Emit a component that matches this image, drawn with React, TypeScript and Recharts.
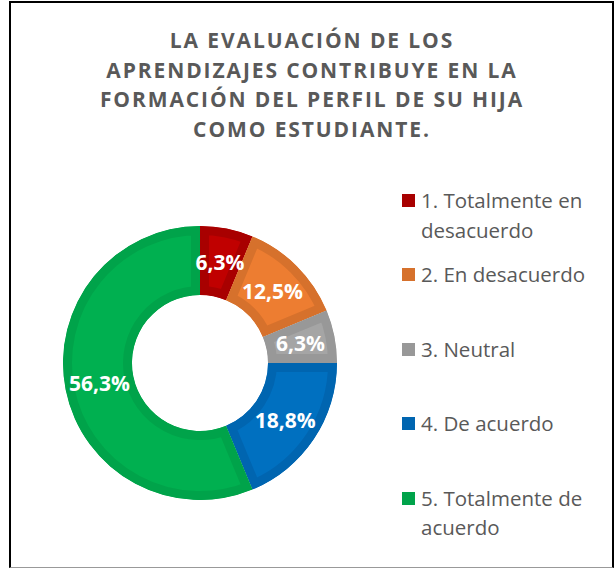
import { Cell, Legend, Pie, PieChart, Sector } from 'recharts'

// Survey answers (percent of respondents)
const categories = [
  '1. Totalmente en desacuerdo',
  '2. En desacuerdo',
  '3. Neutral',
  '4. De acuerdo',
  '5. Totalmente de acuerdo',
]
const percents = [6.25, 12.5, 6.25, 18.75, 56.25]
const fillColors = ['#C00000', '#ED7D31', '#A5A5A5', '#0070C0', '#00B050']
const edgeColors = ['#A80000', '#D6712C', '#989898', '#0065B0', '#00A34A']
const titleLines = [
  'LA EVALUACIÓN DE LOS',
  'APRENDIZAJES CONTRIBUYE EN LA',
  'FORMACIÓN DEL PERFIL DE SU HIJA',
  'COMO ESTUDIANTE.',
]

const data = categories.map((name, i) => ({ name, value: percents[i] }))

const FONT = '"Open Sans", sans-serif'
const RADIAN = Math.PI / 180

// sector with its darker outline drawn only on the inside
function OutlinedSlice(props: any) {
  const { cx, cy, innerRadius, outerRadius, startAngle, endAngle, fill, stroke, index } = props
  const id = `slice-clip-${index}`
  const geom = { cx, cy, innerRadius, outerRadius, startAngle, endAngle }
  return (
    <g>
      <defs>
        <clipPath id={id}>
          <Sector {...geom} />
        </clipPath>
      </defs>
      <Sector {...geom} fill={fill} stroke={stroke} strokeWidth={18} clipPath={`url(#${id})`} />
    </g>
  )
}

function renderLabel(props: any) {
  const { cx, cy, midAngle, innerRadius, outerRadius, value } = props
  const r = (innerRadius + outerRadius) / 2
  const x = cx + r * Math.cos(-midAngle * RADIAN)
  const y = cy + r * Math.sin(-midAngle * RADIAN)
  return (
    <text
      x={x}
      y={y}
      fill="#fff"
      textAnchor="middle"
      dominantBaseline="central"
      fontFamily={FONT}
      fontWeight={700}
      fontSize={21}
    >
      {`${value.toFixed(1).replace('.', ',')}%`}
    </text>
  )
}

function LegendList() {
  return (
    <div style={{ position: 'relative', width: 210, height: 360, fontFamily: FONT }}>
      {categories.map((name, i) => (
        <div
          key={name}
          style={{ position: 'absolute', left: 0, top: i * 74.4, display: 'flex', alignItems: 'flex-start' }}
        >
          <span
            style={{
              display: 'inline-block',
              flex: 'none',
              width: 13,
              height: 13,
              marginTop: 8,
              marginRight: 6,
              background: edgeColors[i],
            }}
          />
          <span style={{ width: 185, fontSize: 20.5, lineHeight: '29.5px', color: '#595959' }}>{name}</span>
        </div>
      ))}
    </div>
  )
}

export default function App() {
  return (
    <div style={{ position: 'absolute', left: 0, top: 0, width: 616, height: 569, background: '#fff' }}>
      <div
        style={{
          position: 'absolute',
          left: 9,
          top: 1,
          width: 605,
          height: 567,
          boxSizing: 'border-box',
          borderTop: '2px solid #000',
          borderLeft: '2px solid #000',
          borderRight: '2px solid #000',
          borderBottom: '1px solid #999',
        }}
      />
      <div
        style={{
          position: 'absolute',
          left: 62,
          top: 26,
          width: 500,
          textAlign: 'center',
          fontFamily: FONT,
          fontWeight: 700,
          fontSize: 21,
          lineHeight: '29.5px',
          letterSpacing: 1.9,
          color: '#595959',
        }}
      >
        {titleLines.map((line) => (
          <div key={line}>{line}</div>
        ))}
      </div>
      <div style={{ position: 'absolute', left: 0, top: 0 }}>
        <PieChart width={616} height={569} margin={{ top: 0, right: 0, bottom: 0, left: 0 }}>
          <Pie
            data={data}
            dataKey="value"
            nameKey="name"
            cx={200}
            cy={363}
            innerRadius={68}
            outerRadius={137}
            startAngle={90}
            endAngle={-270}
            stroke="none"
            label={renderLabel}
            labelLine={false}
            shape={OutlinedSlice}
            isAnimationActive={false}
          >
            {data.map((d, i) => (
              <Cell key={d.name} fill={fillColors[i]} stroke={edgeColors[i]} />
            ))}
          </Pie>
          <Legend
            layout="vertical"
            align="right"
            verticalAlign="top"
            content={() => <LegendList />}
            wrapperStyle={{ left: 402, top: 186, right: 'auto', bottom: 'auto', width: 210 }}
          />
        </PieChart>
      </div>
    </div>
  )
}
